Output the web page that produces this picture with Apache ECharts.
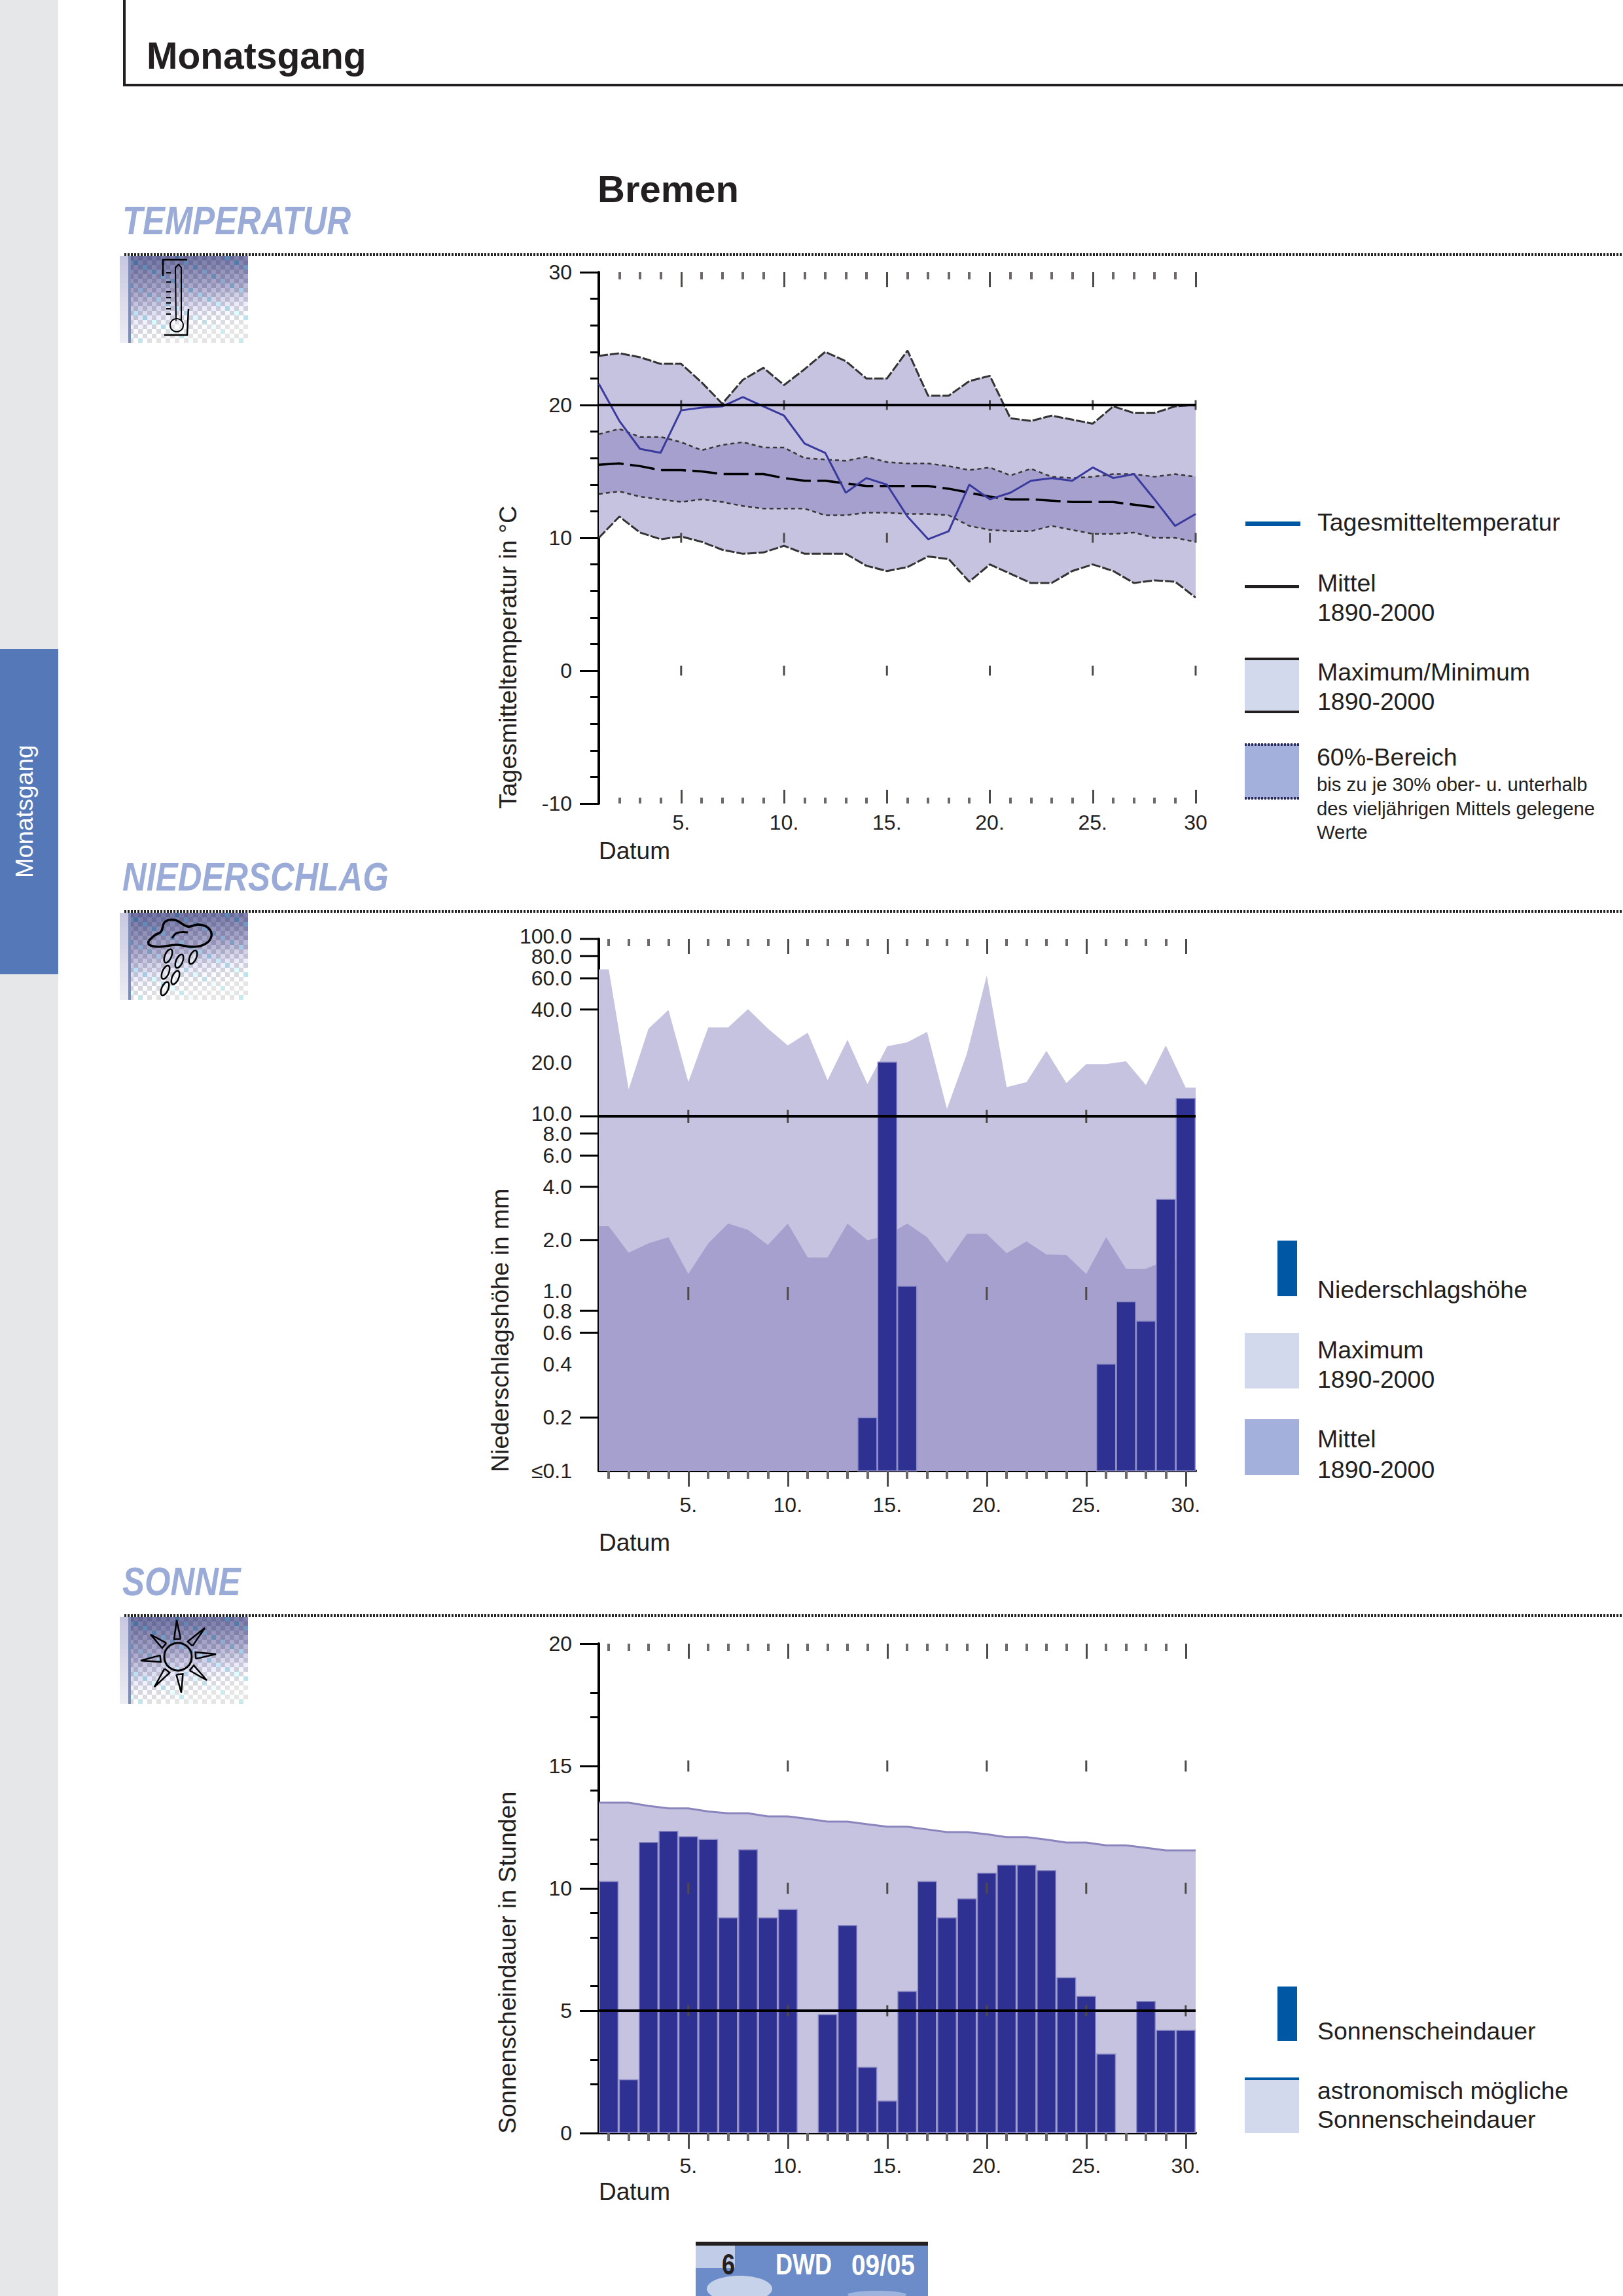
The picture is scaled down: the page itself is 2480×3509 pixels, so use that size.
<!DOCTYPE html>
<html>
<head>
<meta charset="utf-8">
<title>Monatsgang Bremen</title>
<style>
html,body{margin:0;padding:0;background:#fff}
#main{width:2480px;height:3509px}
</style>
<script src="https://cdn.jsdelivr.net/npm/echarts@6/dist/echarts.min.js"></script>
</head>
<body>
<div id="main"></div>
<script>
// Tage im Monat
var days = [1,2,3,4,5,6,7,8,9,10,11,12,13,14,15,16,17,18,19,20,21,22,23,24,25,26,27,28,29,30];
var majorDays = [5,10,15,20,25,30];
var minorDays = [2,3,4,6,7,8,9,11,12,13,14,16,17,18,19,21,22,23,24,26,27,28,29];
var minorDaysAll = [1].concat(minorDays);
var tempDayLabels = ['5.','10.','15.','20.','25.','30'];
var dayLabels = ['5.','10.','15.','20.','25.','30.'];

// Temperatur
var tempMean = [21.6,18.8,16.7,16.4,19.6,19.8,19.9,20.6,19.9,19.2,17.1,16.4,13.4,14.5,14.0,11.6,9.9,10.5,14.0,12.9,13.4,14.3,14.5,14.3,15.3,14.5,14.8,12.9,10.9,11.8];
var tempAvg = [15.5,15.6,15.4,15.1,15.1,15.0,14.8,14.8,14.8,14.5,14.3,14.3,14.1,13.9,13.9,13.9,13.9,13.7,13.4,13.1,12.9,12.9,12.8,12.7,12.7,12.7,12.5,12.3];
var tempMax = [23.7,23.9,23.6,23.1,23.1,21.7,20.1,21.9,22.8,21.5,22.7,24.0,23.3,22.0,22.0,24.1,20.7,20.7,21.8,22.2,19.0,18.8,19.2,18.9,18.6,19.9,19.4,19.4,19.9,20.0];
var tempMin = [10.0,11.6,10.4,9.9,10.1,9.7,9.1,8.8,8.9,9.4,8.8,8.8,8.8,7.9,7.5,7.8,8.6,8.4,6.7,8.0,7.3,6.6,6.6,7.5,8.0,7.5,6.6,6.8,6.7,5.5];
var tempHigh60 = [17.8,18.2,17.6,17.6,17.2,16.6,17.0,17.2,16.8,16.8,16.0,15.9,15.8,16.1,15.7,15.6,15.6,15.4,15.1,15.3,14.7,15.2,14.6,14.5,14.6,14.8,14.8,14.6,14.8,14.6];
var tempLow60 = [13.3,13.5,13.1,12.9,12.7,12.9,12.7,12.4,12.2,12.2,12.2,11.7,11.7,11.9,11.9,11.8,11.8,11.7,10.9,10.6,10.5,10.5,10.9,10.6,10.3,10.3,10.4,10.0,10.0,9.7];
var tempMajorTicks = [30,20,10,0,-10];
var tempMinorTicks = [28,26,24,22,18,16,14,12,8,6,4,2,-2,-4,-6,-8];
var tempTickRows = [20,10,0];

// Niederschlag
var rainValues = [null,null,null,null,null,null,null,null,null,null,null,null,null,0.2,20.2,1.1,null,null,null,null,null,null,null,null,null,0.4,0.9,0.7,3.4,12.6];
var rainMax = [67.3,14.2,31.2,39.8,15.6,31.7,31.7,40.2,31.2,25.1,29.6,16.0,27.0,15.2,24.8,26.1,29.9,11.0,22.5,62.1,14.6,15.6,23.4,15.4,19.7,19.7,20.4,15.0,25.1,14.5];
var rainAvg = [2.40,1.70,1.92,2.08,1.29,1.92,2.48,2.29,1.88,2.48,1.60,1.60,2.48,2.00,2.13,2.48,2.08,1.49,2.17,2.17,1.69,1.97,1.66,1.65,1.29,2.08,1.38,1.38,1.54,1.60];
var rainTickValues = [100,80,60,40,10,8,6,4,2,0.8,0.6,0.2];
var rainLabelValues = [100,80,60,40,20,10,8,6,4,2,1,0.8,0.6,0.4,0.2,0.1];
var rainLabels = ['100.0','80.0','60.0','40.0','20.0','10.0','8.0','6.0','4.0','2.0','1.0','0.8','0.6','0.4','0.2','\u22640.1'];
var rainTickRows = [10,1];

// Sonne
var sunValues = [10.3,2.2,11.9,12.35,12.13,12.02,8.82,11.6,8.82,9.16,null,4.86,8.5,2.71,1.33,5.81,10.3,8.82,9.59,10.64,10.97,10.97,10.75,6.37,5.61,3.25,null,5.4,4.22,4.22];
var sunAstro = [13.5,13.5,13.37,13.27,13.27,13.14,13.07,13.07,12.94,12.94,12.84,12.73,12.73,12.62,12.52,12.52,12.41,12.3,12.3,12.21,12.09,12.09,11.99,11.87,11.87,11.76,11.76,11.66,11.55,11.55];
var sunMajorTicks = [20,15,10,5,0];
var sunMinorTicks = [18,17,14,12,11,9,8,6,3,2];
var sunTickRows = [15,10,5];

var FONT = '"Liberation Sans", Arial, sans-serif';
var INK = '#231f20';
var COL_BAND = '#c5c3e0';
var COL_BAND60 = '#a5a0ce';
var COL_BAR = '#2e3192';
var COL_BAR_EDGE = '#8f8dc6';
var COL_LINE = '#3a3a9e';
var COL_KEY_BLUE = '#0057a4';
var COL_KEY_LIGHT = '#d3d9ed';
var COL_KEY_MID = '#a2b0db';
var COL_TICK = '#4f4a4a';
var COL_TICK_MINOR = '#6e6868';
var COL_HEAD = '#9aabd8';
var NARROW = 0.82;//keine schmale Schrift installiert, daher gestaucht

function pts(vals)
{
	var out = [];
	for(var i=0;i<vals.length;i++)
	{
		out.push([days[i],vals[i]]);
	}
	return out;
}
// Flaeche geht bis an den Rand der Achse weiter
function ptsEdge(vals)
{
	var out = pts(vals);
	out.unshift([0.5,vals[0]]);
	out.push([30.5,vals[vals.length-1]]);
	return out;
}
function rowPts(rows)
{
	var out = [];
	for(var r=0;r<rows.length;r++)
	{
		for(var d=0;d<majorDays.length;d++)
		{
			out.push([majorDays[d],rows[r]]);
		}
	}
	return out;
}

// vier x-Achsen je Diagramm: unten und oben, jeweils lange und kurze Striche
function makeDayAxes(grid,min,max,labels,o)
{
	var base = {type:'value',gridIndex:grid,min:min,max:max,splitLine:{show:false}};
	function tickAxis(pos,values,len,inside,color,width)
	{
		return Object.assign({},base,{
			position:pos,
			axisLine:{show:false,onZero:false},
			axisLabel:{show:false},
			axisTick:{show:true,customValues:values,length:len,inside:inside,lineStyle:{color:color,width:width}}
		});
	}
	var main = tickAxis('bottom',majorDays,o.bottomMajor,o.inside,COL_TICK,3);
	main.axisLine = {show:o.line,onZero:false,lineStyle:{color:'#000',width:4}};
	main.axisLabel = {
		show:true,
		customValues:majorDays,
		margin:o.margin,
		color:INK,
		fontFamily:FONT,
		fontSize:32,
		formatter:function(v){return labels[majorDays.indexOf(v)];}
	};
	return [
		main,
		tickAxis('bottom',o.minorList,o.bottomMinor,o.inside,COL_TICK_MINOR,4),
		tickAxis('top',majorDays,o.topMajor,true,COL_TICK,3),
		tickAxis('top',o.minorList,o.topMinor,true,COL_TICK_MINOR,4)
	];
}
function makeValueAxes(grid,min,max,major,minor,margin)
{
	return [
		{
			type:'value',gridIndex:grid,min:min,max:max,position:'left',
			splitLine:{show:false},
			axisLine:{show:true,onZero:false,lineStyle:{color:'#000',width:4}},
			axisTick:{show:true,customValues:major,length:29,lineStyle:{color:'#000',width:3}},
			axisLabel:{show:true,customValues:major,margin:margin,color:INK,fontFamily:FONT,fontSize:32}
		},
		{
			type:'value',gridIndex:grid,min:min,max:max,position:'left',
			splitLine:{show:false},
			axisLine:{show:false,onZero:false},
			axisLabel:{show:false},
			axisTick:{show:true,customValues:minor,length:13,lineStyle:{color:'#000',width:3}}
		}
	];
}

function lineSeries(xi,yi,data,color,width,dash,z)
{
	return {
		type:'line',xAxisIndex:xi,yAxisIndex:yi,data:data,z:z,
		silent:true,symbol:'none',showSymbol:false,
		lineStyle:{color:color,width:width,type:dash||'solid'}
	};
}
// Band zwischen zwei Kurven als eine Flaeche
function bandSeries(xi,yi,lo,hi,color,z)
{
	return {
		type:'custom',xAxisIndex:xi,yAxisIndex:yi,z:z,silent:true,
		data:pts(lo),
		encode:{x:0,y:1},
		renderItem:function(params,api)
		{
			if(params.dataIndex != 0)
			{
				return null;
			}
			var points = [];
			for(var i=0;i<lo.length;i++)
			{
				points.push(api.coord([days[i],lo[i]]));
			}
			for(var j=hi.length-1;j>=0;j--)
			{
				points.push(api.coord([days[j],hi[j]]));
			}
			return {type:'polygon',shape:{points:points},style:{fill:color}};
		}
	};
}
function areaSeries(xi,yi,vals,color,z)
{
	var s = lineSeries(xi,yi,ptsEdge(vals),color,0,null,z);
	s.lineStyle.opacity = 0;
	s.areaStyle = {color:color,opacity:1,origin:'start'};
	return s;
}
function tickRowSeries(xi,yi,rows,h)
{
	return {
		type:'scatter',xAxisIndex:xi,yAxisIndex:yi,data:rowPts(rows),z:6,silent:true,
		symbol:'rect',symbolSize:[3,h],itemStyle:{color:COL_TICK,opacity:1}
	};
}
function refLine(xi,yi,x0,x1,level)
{
	return lineSeries(xi,yi,[[x0,level],[x1,level]],'#000',4,null,9);
}

var xAxes = []
	.concat(makeDayAxes(0,1,30,tempDayLabels,{line:false,inside:true,bottomMajor:21,bottomMinor:9,topMajor:23,topMinor:11,margin:13,minorList:minorDays}))
	.concat(makeDayAxes(1,0.5,30.5,dayLabels,{line:true,inside:false,bottomMajor:24,bottomMinor:12,topMajor:23,topMinor:11,margin:36,minorList:minorDaysAll}))
	.concat(makeDayAxes(2,0.5,30.5,dayLabels,{line:true,inside:false,bottomMajor:24,bottomMinor:12,topMajor:23,topMinor:11,margin:34,minorList:minorDaysAll}));

var yAxes = []
	.concat(makeValueAxes(0,-10,30,tempMajorTicks,tempMinorTicks,41))
	.concat([{
		type:'log',logBase:10,gridIndex:1,min:0.1,max:100,position:'left',
		splitLine:{show:false},minorSplitLine:{show:false},
		axisLine:{show:true,onZero:false,lineStyle:{color:'#000',width:4}},
		axisTick:{show:false},minorTick:{show:false},axisLabel:{show:false}
	}])
	.concat(makeValueAxes(2,0,20,sunMajorTicks,sunMinorTicks,41));

var series = [];
// Temperatur
series.push(bandSeries(0,0,tempMin,tempMax,COL_BAND,1));
series.push(bandSeries(0,0,tempLow60,tempHigh60,COL_BAND60,2));
series.push(lineSeries(0,0,pts(tempMax),'#333',3,[14,3],3));
series.push(lineSeries(0,0,pts(tempMin),'#333',3,[14,3],3));
series.push(lineSeries(0,0,pts(tempHigh60),'#3a3636',2.5,[6,5],3));
series.push(lineSeries(0,0,pts(tempLow60),'#3a3636',2.5,[6,5],3));
series.push(lineSeries(0,0,pts(tempAvg),'#000',3.5,[38,10],4));
series.push(tickRowSeries(0,0,tempTickRows,15));
series.push(lineSeries(0,0,pts(tempMean),COL_LINE,3,null,7));
series.push(refLine(0,0,1,30,20));

// Niederschlag, Saeulen ueber custom, weil log-Balken sonst bei 1 beginnen
series.push(areaSeries(4,2,rainMax,COL_BAND,1));
series.push(areaSeries(4,2,rainAvg,COL_BAND60,2));
series.push(tickRowSeries(4,2,rainTickRows,20));
series.push({
	type:'custom',xAxisIndex:4,yAxisIndex:2,z:7,silent:true,
	data:pts(rainValues).filter(function(p){return p[1]!=null;}),
	encode:{x:0,y:1},
	renderItem:function(params,api)
	{
		var top = api.coord([api.value(0),api.value(1)]);
		var base = api.coord([api.value(0),0.1]);
		return {
			type:'rect',
			shape:{x:top[0]-14.5,y:top[1],width:29,height:base[1]-top[1]},
			style:{fill:COL_BAR,stroke:COL_BAR_EDGE,lineWidth:1.5}
		};
	}
});
series.push({
	type:'custom',xAxisIndex:4,yAxisIndex:2,z:8,silent:true,clip:false,
	data:rainTickValues.map(function(v){return [0.5,v];}),
	encode:{x:0,y:1},
	renderItem:function(params,api)
	{
		var p = api.coord([0.5,api.value(1)]);
		return {
			type:'line',
			shape:{x1:p[0]-29,y1:p[1],x2:p[0],y2:p[1]},
			style:{stroke:'#000',lineWidth:3}
		};
	}
});
// die dicht liegenden Paare 100/80, 10/8, 1/0.8 etwas auseinander
function rainLabelShift(i)
{
	if(i==0 || i==5 || i==10)
	{
		return -4;
	}
	if(i==1 || i==6 || i==11)
	{
		return 1;
	}
	return 0;
}
series.push({
	type:'custom',xAxisIndex:4,yAxisIndex:2,z:8,silent:true,clip:false,
	data:rainLabelValues.map(function(v){return [0.5,v];}),
	encode:{x:0,y:1},
	renderItem:function(params,api)
	{
		var p = api.coord([0.5,api.value(1)]);
		return {
			type:'text',
			style:{
				text:rainLabels[params.dataIndex],x:p[0]-41,y:p[1]+rainLabelShift(params.dataIndex),
				align:'right',verticalAlign:'middle',
				fontFamily:FONT,fontSize:32,fill:INK
			}
		};
	}
});
series.push(refLine(4,2,0.5,30.5,10));

// Sonne
series.push(areaSeries(8,3,sunAstro,COL_BAND,1));
series.push(lineSeries(8,3,ptsEdge(sunAstro),'#8a86bd',3,null,2));
series.push(tickRowSeries(8,3,sunTickRows,17));
series.push({
	type:'bar',xAxisIndex:8,yAxisIndex:3,data:pts(sunValues),z:5,silent:true,
	barWidth:30,
	itemStyle:{color:COL_BAR,borderColor:COL_BAR_EDGE,borderWidth:1.5}
});
series.push(refLine(8,3,0.5,30.5,5));

// Seitenelemente
function text(str,x,y,size,o)
{
	o = o || {};
	return {
		type:'text',x:x,y:y,rotation:o.rotation||0,scaleX:o.scaleX||1,silent:true,z:20,
		style:{
			text:str,x:0,y:0,fontFamily:FONT,fontSize:size,
			fontWeight:o.weight||'normal',fontStyle:o.italic?'italic':'normal',
			fill:o.color||INK,align:o.align||'left',verticalAlign:o.valign||'bottom'
		}
	};
}
// y ist die Schriftlinie
function textBase(str,x,baseline,size,o)
{
	return text(str,x,baseline+size*0.14,size,o);
}
function rect(x,y,w,h,color,z)
{
	return {type:'rect',silent:true,z:z||1,shape:{x:x,y:y,width:w,height:h},style:{fill:color}};
}
function line(x1,y1,x2,y2,color,width,dash)
{
	return {
		type:'line',silent:true,z:2,
		shape:{x1:x1,y1:y1,x2:x2,y2:y2},
		style:{stroke:color,lineWidth:width,lineDash:dash||null}
	};
}
function mix(a,b,t)
{
	return [a[0]+(b[0]-a[0])*t,a[1]+(b[1]-a[1])*t,a[2]+(b[2]-a[2])*t];
}
// gerastertes Bild hinter den Symbolen
function ditherPanel()
{
	var out = [];
	var cell = 7;
	var cols = 28, rows = 19;
	var top = [105,108,155], mid = [158,156,192], low = [220,220,236], end = [252,252,253];
	for(var j=0;j<rows;j++)
	{
		for(var i=-1;i<cols-1;i++)
		{
			var t = j/(rows-1)+0.28*(i/cols)*(j/(rows-1)+0.4);
			var c = t<0.45 ? mix(top,mid,t/0.45) : (t<0.8 ? mix(mid,low,(t-0.45)/0.35) : mix(low,end,Math.min(1,(t-0.8)/0.35)));
			var amp = 8+t*12;
			var sign = (i+j)%2==0 ? 1 : -1;
			var r = c[0]+sign*amp, g = c[1]+sign*amp, b = c[2]+sign*amp;
			if((i*3+j*5)%11==0)
			{
				r -= 28; g += 6; b += 8;
			}
			if(i<1)
			{
				var strip = mix([200,200,226],[238,238,245],j/rows);
				r = strip[0]; g = strip[1]; b = strip[2];
			}
			var fill = 'rgb('+Math.min(255,Math.round(r))+','+Math.min(255,Math.round(g))+','+Math.min(255,Math.round(b))+')';
			out.push(rect(i*cell,j*cell,cell,cell,fill,1));
		}
	}
	out.push({type:'rect',silent:true,z:2,shape:{x:6,y:0,width:4,height:133},style:{fill:'#7e8cb8'}});
	return out;
}
function stroke(points,width,smooth)
{
	return {
		type:'polyline',silent:true,z:3,
		shape:{points:points,smooth:smooth||0},
		style:{stroke:'#000',lineWidth:width,fill:null}
	};
}
function thermometerIcon()
{
	var out = [];
	out.push(stroke([[59,31],[59,6],[96,6]],2.5));
	out.push(stroke([[61,121],[96,121],[98,81]],2.5));
	out.push(stroke([[79,100],[78,18],[83,13],[87,18],[87,100]],2));
	out.push({type:'circle',silent:true,z:3,shape:{cx:80,cy:106,r:10},style:{stroke:'#000',lineWidth:2,fill:'rgba(255,255,255,0.3)'}});
	var marks = [26,40,55,64,72,81,89];
	for(var i=0;i<marks.length;i++)
	{
		var m = stroke([[64,marks[i]],[71,marks[i]]],2);
		out.push(m);
	}
	return out;
}
function drop(cx,cy)
{
	return {
		type:'ellipse',silent:true,z:3,x:cx,y:cy,rotation:-0.4,
		shape:{cx:0,cy:0,rx:5,ry:11},
		style:{stroke:'#000',lineWidth:2.5,fill:'rgba(255,255,255,0.35)'}
	};
}
function cloudIcon()
{
	var out = [];
	out.push(stroke([[37,43],[47,34],[56,29],[62,14],[77,11],[97,21],[113,18],[128,23],[133,36],[123,48],[103,52],[80,49],[53,52],[38,49],[37,43]],3.5,0.4));
	out.push(stroke([[73,39],[80,31],[97,30]],3,0.4));
	var d = [[67,66],[84,74],[105,68],[63,91],[78,99],[62,116]];
	for(var i=0;i<d.length;i++)
	{
		out.push(drop(d[i][0],d[i][1]));
	}
	return out;
}
function sunIcon()
{
	var out = [];
	var cx = 82, cy = 61;
	out.push({type:'circle',silent:true,z:3,shape:{cx:cx,cy:cy,r:21},style:{stroke:'#000',lineWidth:3,fill:null}});
	var tips = [[80,5],[123,17],[140,57],[126,97],[87,116],[46,107],[25,67],[40,27]];
	for(var i=0;i<tips.length;i++)
	{
		var dx = tips[i][0]-cx, dy = tips[i][1]-cy;
		var n = Math.sqrt(dx*dx+dy*dy);
		var ux = dx/n, uy = dy/n;
		var bx = cx+ux*27, by = cy+uy*27;
		out.push(stroke([[bx-uy*5,by+ux*5],[tips[i][0],tips[i][1]],[bx+uy*5,by-ux*5],[bx-uy*5,by+ux*5]],2.5));
	}
	return out;
}
function iconGroup(y,children)
{
	return {type:'group',x:190,y:y,silent:true,children:ditherPanel().concat(children)};
}

var graphics = [
	rect(0,0,89,3509,'#e6e7e8'),
	rect(0,992,89,497,'#5579b8'),
	text('Monatsgang',37,1342,37,{color:'#fff',rotation:Math.PI/2,valign:'middle'}),

	line(190,0,190,130,INK,4),
	line(188,130,2480,130,INK,4),
	textBase('Monatsgang',224,106,57,{weight:'bold'}),
	textBase('Bremen',913,309,58,{weight:'bold'}),

	textBase('TEMPERATUR',187,359,62,{weight:'bold',italic:true,color:COL_HEAD,scaleX:NARROW}),
	textBase('NIEDERSCHLAG',187,1362,62,{weight:'bold',italic:true,color:COL_HEAD,scaleX:NARROW}),
	textBase('SONNE',187,2439,62,{weight:'bold',italic:true,color:COL_HEAD,scaleX:NARROW}),
	line(190,389,2480,389,'#222',4,[3,2]),
	line(190,1393,2480,1393,'#222',4,[3,2]),
	line(190,2469,2480,2469,'#222',4,[3,2]),
	iconGroup(391,thermometerIcon()),
	iconGroup(1395,cloudIcon()),
	iconGroup(2471,sunIcon()),

	text('Tagesmitteltemperatur in \u00b0C',776,1236,37.5,{rotation:Math.PI/2,valign:'middle'}),
	text('Niederschlagsh\u00f6he in mm',764,2250,37.5,{rotation:Math.PI/2,valign:'middle'}),
	text('Sonnenscheindauer in Stunden',775,3261,37.5,{rotation:Math.PI/2,valign:'middle'}),
	textBase('Datum',915,1314,37),
	textBase('Datum',915,2371,37),
	textBase('Datum',915,3363,37),

	// Legende Temperatur
	rect(1903,797,84,7,COL_KEY_BLUE),
	textBase('Tagesmitteltemperatur',2013,812,37.5),
	rect(1902,894,83,5,INK),
	textBase('Mittel',2013,905,37.5),
	textBase('1890-2000',2013,950,37.5),
	rect(1902,1005,83,85,COL_KEY_LIGHT),
	rect(1902,1005,83,4,INK),
	rect(1902,1086,83,4,INK),
	textBase('Maximum/Minimum',2013,1041,37.5),
	textBase('1890-2000',2013,1086,37.5),
	rect(1902,1137,83,84,COL_KEY_MID),
	line(1902,1138,1985,1138,'#2b2b55',4,[3,2]),
	line(1902,1220,1985,1220,'#2b2b55',4,[3,2]),
	textBase('60%-Bereich',2012,1171,37.5),
	textBase('bis zu je 30% ober- u. unterhalb',2012,1209,29.3),
	textBase('des vielj\u00e4hrigen Mittels gelegene',2012,1246,29.3),
	textBase('Werte',2012,1282,29.3),

	// Legende Niederschlag
	rect(1952,1896,30,85,COL_KEY_BLUE),
	textBase('Niederschlagsh\u00f6he',2013,1985,37.5),
	rect(1902,2037,83,85,COL_KEY_LIGHT),
	textBase('Maximum',2013,2077,37.5),
	textBase('1890-2000',2013,2122,37.5),
	rect(1902,2169,83,85,COL_KEY_MID),
	textBase('Mittel',2013,2213,37.5),
	textBase('1890-2000',2013,2260,37.5),

	// Legende Sonne
	rect(1952,3036,30,83,COL_KEY_BLUE),
	textBase('Sonnenscheindauer',2013,3118,37.5),
	rect(1902,3175,83,85,COL_KEY_LIGHT),
	rect(1902,3175,83,4,COL_KEY_BLUE),
	textBase('astronomisch m\u00f6gliche',2013,3209,37.5),
	textBase('Sonnenscheindauer',2013,3253,37.5),

	// Fusszeile
	rect(1063,3432,355,77,'#6b8cc8'),
	rect(1063,3432,60,34,'#c0cce8'),
	{type:'ellipse',silent:true,z:1,shape:{cx:1130,cy:3498,rx:50,ry:20},style:{fill:'#c6d2ea'}},
	{type:'ellipse',silent:true,z:1,shape:{cx:1340,cy:3507,rx:45,ry:6},style:{fill:'#9fb4dc'}},
	rect(1063,3426,355,6,INK,2),
	textBase('6',1103,3477,44,{weight:'bold',scaleX:NARROW}),
	textBase('DWD',1185,3477,44,{weight:'bold',color:'#fff',scaleX:NARROW}),
	textBase('09/05',1301,3477,44,{weight:'bold',color:'#fff',scaleX:0.88})
];

var myChart = echarts.init(document.getElementById('main'),null,{renderer:'svg',width:2480,height:3509});
myChart.setOption({
	animation:false,
	backgroundColor:'#fff',
	tooltip:{show:false},
	legend:{show:false},
	grid:[
		{left:915,top:416,width:912,height:812},
		{left:915,top:1435,width:912,height:813},
		{left:915,top:2512,width:912,height:748}
	],
	xAxis:xAxes,
	yAxis:yAxes,
	series:series,
	graphic:{elements:graphics}
});
</script>
</body>
</html>
